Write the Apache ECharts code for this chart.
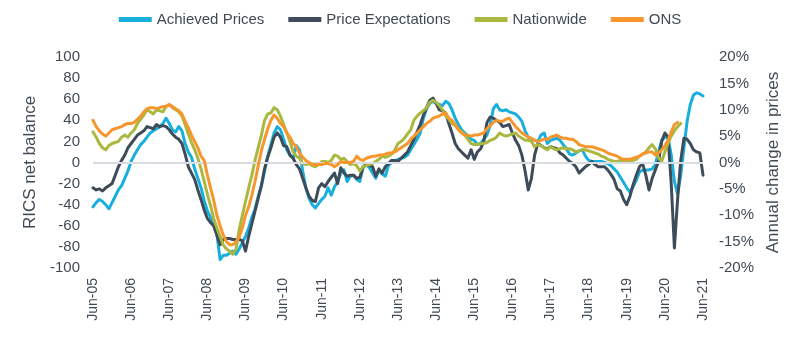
<!DOCTYPE html>
<html><head><meta charset="utf-8">
<script src="https://cdn.jsdelivr.net/npm/echarts@6/dist/echarts.min.js"></script>
<style>html,body{margin:0;padding:0;background:#fff}#c{width:800px;height:338px}</style>
</head><body><div id="c"></div>
<script>
// Monthly categories Jun-05 .. Jun-21
const monthNames = ['Jun','Jul','Aug','Sep','Oct','Nov','Dec','Jan','Feb','Mar','Apr','May'];
const startYear = 2005, monthCount = 193;
const categories = [];
for (let i = 0; i < monthCount; i++) {
  const mi = i % 12;
  const yr = startYear + Math.floor((i + 5) / 12);
  categories.push(monthNames[mi] + '-' + String(yr % 100).padStart(2, '0'));
}

const seriesNames = ['Achieved Prices', 'Price Expectations', 'Nationwide', 'ONS'];

// RICS net balance (left axis)
const achievedPrices = [
  -42,-38,-35,-37,-40,-44,-38,-32,-26,-22,-15,-8,
  1,7,12,17,20,24,28,30,32,34,37,42,
  37,31,29,34,30,18,10,5,-6,-15,-24,-36,
  -46,-52,-60,-68,-92,-88,-88,-86,-84,-87,-82,-76,
  -70,-62,-52,-44,-32,-22,-8,6,17,28,34,31,
  22,12,7,4,16,12,-8,-24,-34,-40,-43,-39,
  -35,-32,-24,-31,-23,-18,-10,-7,-18,-13,-12,-16,
  -18,-5,-2,-5,-10,-15,-7,-11,-13,-3,0,1,
  3,4,5,7,12,17,22,28,42,51,56,58,
  56,55,54,58,56,50,42,36,31,28,25,22,
  21,17,18,22,26,35,51,55,50,49,50,48,
  47,46,43,39,30,24,22,21,20,26,28,18,
  21,22,23,21,17,13,8,7,9,11,12,6,
  2,1,1,1,1,0,-1,-3,-6,-9,-14,-19,
  -24,-28,-23,-17,-9,-7,-7,-7,-6,-2,10,21,
  24,24,7,-18,-30,-12,14,39,55,64,66,65,
  63
];
const priceExpectations = [
  -24,-26,-25,-27,-24,-22,-20,-12,-4,2,7,14,
  18,22,26,28,30,34,33,32,36,34,35,34,
  31,27,24,22,18,8,-4,-10,-16,-26,-35,-45,
  -53,-57,-60,-69,-78,-73,-72,-72,-73,-73,-73,-74,
  -84,-70,-58,-46,-34,-22,-6,5,14,24,28,24,
  16,15,7,4,-2,-6,-15,-24,-32,-36,-37,-24,
  -20,-23,-18,-14,-10,-20,-5,-10,-13,-12,-12,-15,
  -14,-4,-2,-3,-4,-13,-6,-10,-4,-1,2,2,
  1,4,7,10,16,22,29,36,45,52,59,61,
  56,50,49,47,37,28,18,13,10,7,4,12,
  3,10,13,20,38,43,42,40,38,34,35,36,
  28,21,16,7,-8,-26,-15,7,18,16,14,13,
  15,14,13,9,7,4,1,-1,-4,-10,-7,-4,
  -2,1,-2,-4,-4,-4,-7,-11,-16,-25,-27,-35,
  -40,-32,-21,-12,-4,-1,-12,-26,-15,-7,1,20,
  28,24,-20,-81,-35,2,23,22,18,12,10,9,
  -12
];
// Annual change in prices, % (right axis)
const nationwide = [
  5.8,4.8,3.6,2.8,2.4,3.2,3.6,3.8,4.0,4.8,5.2,4.8,
  5.6,6.2,7.4,8.2,9.0,10.0,9.6,9.2,10.0,9.8,9.6,10.6,
  11.0,10.4,10.0,9.6,8.8,7.2,5.4,3.8,2.4,0.8,-1.2,-3.6,
  -6.0,-8.2,-10.6,-12.4,-14.0,-15.6,-16.4,-16.8,-17.4,-16.4,-12.8,-10.0,
  -7.4,-4.8,-2.4,0.4,2.8,5.2,8.0,9.2,9.4,10.4,10.0,8.8,
  7.2,5.6,4.0,2.0,1.2,0.8,-0.2,-0.4,-0.2,-0.6,-0.8,-0.4,
  0.2,0.2,0.0,0.4,1.4,1.2,0.6,0.8,0.2,-0.4,-0.2,-0.6,
  -1.6,-0.8,-0.6,-0.4,-0.2,0.2,0.6,1.2,1.0,1.2,1.6,2.4,
  3.6,4.0,4.6,5.4,6.2,8.0,8.8,9.4,9.8,10.4,11.4,11.8,
  11.4,10.8,10.0,8.8,8.2,7.4,7.0,6.4,5.8,5.2,4.4,3.6,
  3.4,3.4,3.6,3.6,3.8,4.2,4.4,4.8,5.6,5.2,5.0,5.2,
  5.4,5.6,5.0,4.6,4.2,4.2,4.0,3.0,3.4,3.2,2.8,2.4,
  3.0,2.6,2.4,2.6,2.8,2.6,2.6,2.4,2.0,2.2,2.4,2.4,
  2.2,2.0,1.8,1.6,1.2,1.0,0.6,0.4,0.2,0.2,0.4,0.2,
  0.2,0.4,0.4,0.6,1.2,1.6,2.0,2.8,3.4,2.6,0.8,0.2,
  2.0,3.6,5.0,6.0,6.8,7.4
];
const ons = [
  8.0,6.8,6.0,5.4,5.0,5.6,6.2,6.4,6.6,6.8,7.2,7.4,
  7.4,7.6,8.2,8.8,9.6,10.2,10.4,10.4,10.2,10.4,10.6,10.6,
  11.0,10.6,10.2,9.8,9.2,7.8,6.6,5.2,4.0,2.8,1.2,0.4,
  -2.4,-4.8,-7.2,-10.0,-12.0,-13.8,-15.0,-15.6,-15.6,-15.0,-14.2,-12.4,
  -10.0,-8.4,-6.2,-3.6,-0.6,2.2,4.4,6.4,8.0,9.0,8.4,7.4,
  6.8,5.6,4.8,3.6,3.0,1.8,1.0,0.4,0.0,-0.4,-0.4,-0.4,
  -0.4,-0.2,-0.2,-0.4,-0.8,-0.4,0.2,0.0,0.0,0.0,0.2,1.2,
  0.6,0.4,0.8,1.0,1.2,1.2,1.4,1.4,1.6,1.8,1.8,2.0,
  2.4,2.8,3.2,3.6,4.4,5.0,5.6,6.2,6.8,7.4,7.8,8.4,
  8.6,8.8,9.2,9.4,8.4,8.0,7.2,6.2,5.6,5.2,5.2,5.0,
  5.2,5.2,5.4,5.6,6.4,7.0,7.6,8.0,7.8,7.8,8.2,8.4,
  7.6,6.8,6.2,5.6,5.2,4.8,4.6,4.2,4.0,4.2,4.4,4.4,
  4.8,5.0,5.2,4.8,4.6,4.6,4.4,4.4,4.0,3.4,3.2,3.0,
  3.0,3.0,2.8,2.6,2.4,2.2,1.8,1.6,1.4,1.2,0.8,0.6,
  0.6,0.6,0.8,1.0,1.2,1.6,1.8,2.0,2.0,1.4,1.8,2.4,
  3.2,4.2,5.8,7.2,7.6
];

const leftTicks = {min: -100, max: 100, interval: 20};
const rightTicks = {min: -20, max: 20, interval: 5};
const colors = ['#18afdf', '#3e4c59', '#aab83f', '#f7962d'];

const font = '"Liberation Sans", Arial, sans-serif';
const textColor = '#404a55';

const chart = echarts.init(document.getElementById('c'), null, {renderer: 'canvas'});
const mkLine = (name, data, axis, color, extra) => Object.assign({
  name: name, type: 'line', data: data, yAxisIndex: axis,
  showSymbol: false, symbol: 'none', smooth: false,
  lineStyle: {color: color, width: 3, join: 'round', cap: 'round'},
  itemStyle: {color: color}
}, extra || {});

chart.setOption({
  animation: false,
  textStyle: {fontFamily: font},
  color: colors,
  legend: {
    top: 7, left: 'center', itemWidth: 33, itemHeight: 5, itemGap: 24, icon: 'rect',
    textStyle: {fontSize: 15, color: textColor, fontFamily: font},
    data: seriesNames
  },
  grid: {left: 93, right: 97, top: 57, bottom: 70, containLabel: false},
  xAxis: {
    type: 'category', data: categories, boundaryGap: false,
    axisLine: {show: false, onZero: false}, axisTick: {show: false},
    axisLabel: {interval: 11, rotate: 90, fontSize: 14, color: textColor, margin: 10, fontFamily: font},
    splitLine: {show: false}
  },
  yAxis: [
    Object.assign({
      type: 'value', position: 'left',
      name: 'RICS net balance', nameLocation: 'middle', nameRotate: 90, nameGap: 48,
      nameTextStyle: {fontSize: 17, color: textColor, fontFamily: font},
      axisLabel: {fontSize: 15, color: textColor, margin: 13, fontFamily: font},
      axisLine: {show: false}, axisTick: {show: false}, splitLine: {show: false}
    }, leftTicks),
    Object.assign({
      type: 'value', position: 'right',
      name: 'Annual change in prices', nameLocation: 'middle', nameRotate: 90, nameGap: 60,
      nameTextStyle: {fontSize: 17, color: textColor, fontFamily: font},
      axisLabel: {fontSize: 15, color: textColor, margin: 16, formatter: '{value}%', fontFamily: font},
      axisLine: {show: false}, axisTick: {show: false}, splitLine: {show: false}
    }, rightTicks)
  ],
  series: [
    mkLine(seriesNames[0], achievedPrices, 0, colors[0], {
      markLine: {
        silent: true, symbol: 'none', label: {show: false},
        lineStyle: {color: '#d9dde2', width: 2, type: 'solid'},
        data: [{yAxis: 0}]
      },
      z: 2
    }),
    mkLine(seriesNames[1], priceExpectations, 0, colors[1], {z: 3}),
    mkLine(seriesNames[2], nationwide, 1, colors[2], {z: 4}),
    mkLine(seriesNames[3], ons, 1, colors[3], {z: 5})
  ]
});
</script></body></html>
